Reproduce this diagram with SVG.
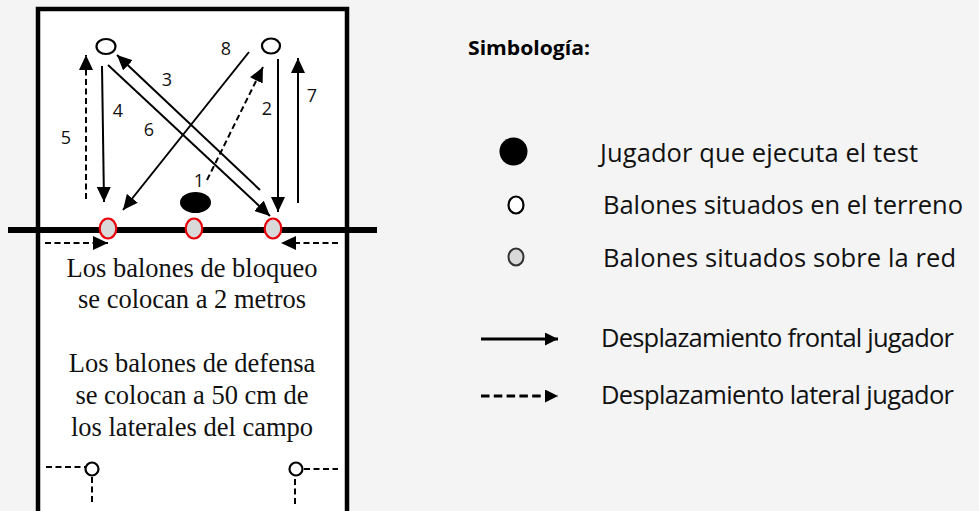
<svg xmlns="http://www.w3.org/2000/svg" width="979" height="511" viewBox="0 0 979 511">
<defs>
<style>
.bg{fill:#f4f4f4}
.court{fill:#fff;stroke:#000;stroke-width:4.5}
.net{stroke:#000;stroke-width:6}
.ball{fill:#fff;stroke:#000;stroke-width:2.2}
.netball{fill:#d9d9d9;stroke:#e8000b;stroke-width:2.2}
.player{fill:#000}
.mv{stroke:#000;stroke-width:2;fill:none}
.dash{stroke-dasharray:6 3.5}
.num{font-family:"Open Sans","Liberation Sans",sans-serif;font-size:18px;fill:#111;text-anchor:middle}
.note{font-family:"Liberation Serif","Times New Roman",serif;font-size:26.5px;fill:#111;text-anchor:middle}
.leg{font-family:"Open Sans","Liberation Sans",sans-serif;font-size:25.5px;fill:#111}
.title{font-family:"Open Sans","Liberation Sans",sans-serif;font-size:19px;font-weight:bold;fill:#000}
.legline{stroke:#000;stroke-width:3;fill:none}
</style>
<marker id="ah" markerUnits="userSpaceOnUse" markerWidth="15" markerHeight="14" refX="15" refY="7" orient="auto"><path d="M0,0 L15,7 L0,14 z" fill="#000"/></marker>
<marker id="ahL" markerUnits="userSpaceOnUse" markerWidth="13" markerHeight="13" refX="13" refY="6.5" orient="auto"><path d="M0,0 L13,6.5 L0,13 z" fill="#000"/></marker>
</defs>
<rect class="bg" x="0" y="0" width="979" height="511"/>
<g id="court">
<path class="court" d="M38,515 V9 H347 V515"/>
<line class="net" x1="8" y1="230" x2="377" y2="230"/>
</g>
<g id="connectors">
<path class="mv dash" d="M86,199 L86,55" marker-end="url(#ah)"/>
<path class="mv" d="M102,66 L104,202" marker-end="url(#ah)"/>
<path class="mv" d="M108,65 L270,216" marker-end="url(#ah)"/>
<path class="mv" d="M260,190 L117,55" marker-end="url(#ah)"/>
<path class="mv" d="M249,52 L123,210" marker-end="url(#ah)"/>
<path class="mv dash" d="M207,180 L263,67" marker-end="url(#ah)"/>
<path class="mv" d="M278,59 L278,212" marker-end="url(#ah)"/>
<path class="mv" d="M298,203 L298,58" marker-end="url(#ah)"/>
<path class="mv dash" d="M45,243 L108,243" marker-end="url(#ah)"/>
<path class="mv dash" d="M338,243 L281,243" marker-end="url(#ah)"/>
<path class="mv dash" d="M46,467 H85"/>
<path class="mv dash" d="M92,477 V503"/>
<path class="mv dash" d="M304,469 H338"/>
<path class="mv dash" d="M295,479 V505"/>
</g>
<g id="ball-top-left"><ellipse class="ball" cx="106" cy="46.5" rx="9.5" ry="7.5"/></g>
<g id="ball-top-right"><ellipse class="ball" cx="271" cy="46" rx="9" ry="7.5"/></g>
<g id="ball-net-left"><ellipse class="netball" cx="108" cy="228.5" rx="8.3" ry="10"/></g>
<g id="ball-net-center"><ellipse class="netball" cx="194" cy="228.5" rx="8.3" ry="10"/></g>
<g id="ball-net-right"><ellipse class="netball" cx="273" cy="228.5" rx="8.3" ry="10"/></g>
<g id="player"><ellipse class="player" cx="195.5" cy="202.5" rx="15.5" ry="10.5"/></g>
<g id="ball-def-left"><circle class="ball" cx="92" cy="469" r="6.5" stroke-width="2.5"/></g>
<g id="ball-def-right"><circle class="ball" cx="296" cy="469" r="6.5" stroke-width="2.5"/></g>
<g id="labels">
<text class="num" x="226" y="55">8</text>
<text class="num" x="167" y="86">3</text>
<text class="num" x="312" y="102">7</text>
<text class="num" x="267" y="115">2</text>
<text class="num" x="118" y="117">4</text>
<text class="num" x="66" y="144">5</text>
<text class="num" x="149" y="136">6</text>
<text class="num" x="199" y="187">1</text>
</g>
<g id="notes">
<text class="note" x="192" y="277">Los balones de bloqueo</text>
<text class="note" x="192" y="308">se colocan a 2 metros</text>
<text class="note" x="192" y="372">Los balones de defensa</text>
<text class="note" x="192" y="404">se colocan a 50 cm de</text>
<text class="note" x="192" y="436">los laterales del campo</text>
</g>
<g id="legend">
<text class="title" x="468" y="55" textLength="122" lengthAdjust="spacingAndGlyphs">Simbología:</text>
<g id="leg-player"><circle cx="513.5" cy="151.5" r="14" fill="#000"/><text class="leg" x="600" y="162" textLength="318">Jugador que ejecuta el test</text></g>
<g id="leg-ground"><ellipse class="ball" cx="516" cy="205" rx="7.5" ry="8.5"/><text class="leg" x="603" y="214" textLength="360">Balones situados en el terreno</text></g>
<g id="leg-net"><ellipse cx="516" cy="257" rx="7.5" ry="8.5" fill="#d9d9d9" stroke="#333" stroke-width="2"/><text class="leg" x="603" y="267" textLength="353">Balones situados sobre la red</text></g>
<g id="leg-frontal"><path class="legline" d="M481,339 H558" marker-end="url(#ahL)"/><text class="leg" x="601" y="347" textLength="353">Desplazamiento frontal jugador</text></g>
<g id="leg-lateral"><path class="legline" d="M481,396 H558" stroke-dasharray="8.5 4.3" marker-end="url(#ahL)"/><text class="leg" x="601" y="404" textLength="353">Desplazamiento lateral jugador</text></g>
</g>
</svg>
